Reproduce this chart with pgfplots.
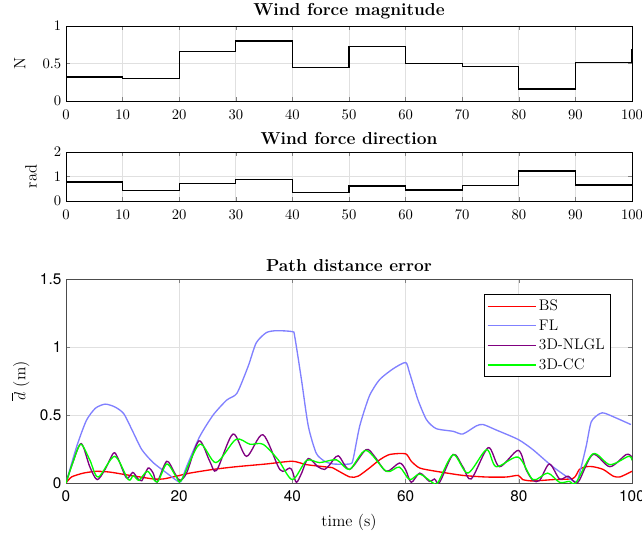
\documentclass[border=0pt]{standalone}
\usepackage{pgfplots}
\pgfplotsset{compat=1.18}
\usepackage{fontspec}
\newfontfamily\hv{TeX Gyre Heros}
\definecolor{flblue}{rgb}{0.5,0.5,1}
\definecolor{nlpurple}{rgb}{0.5,0,0.5}
\definecolor{gridc}{gray}{0.88}
\begin{document}
\begin{tikzpicture}
\useasboundingbox (0,0) rectangle (481.5pt,-402pt);
\pgfplotsset{
  every axis/.append style={
    scale only axis, width=424.5pt, xmin=0, xmax=100,
    grid=major, major grid style={gridc, line width=0.5pt},
    tick align=inside, tick pos=both,
    major tick length=3pt,
    axis line style={line width=0.6pt},
    title style={font=\fontsize{13}{15}\selectfont\bfseries, yshift=-4pt},
    ticklabel style={font=\fontsize{10.5}{12}\selectfont},
    label style={font=\fontsize{12.3}{14}\selectfont},
  }
}
% Wind force magnitude
\begin{axis}[at={(49.5pt,-75.75pt)}, anchor=south west, height=56.25pt,
  ymin=0, ymax=1, ytick={0,0.5,1}, xtick={0,10,...,100},
  xticklabel style={yshift=-3pt},
  title={Wind force magnitude}, ylabel={N}, ylabel style={yshift=6pt}]
\addplot[const plot, black, line width=1pt] coordinates {
(0,0.32) (10,0.30) (20,0.66) (30,0.80) (40,0.45) (50,0.73) (60,0.50) (70,0.46) (80,0.16) (90,0.51) (100,0.70)};
\end{axis}
% Wind force direction
\begin{axis}[at={(49.5pt,-150.75pt)}, anchor=south west, height=36.75pt,
  ymin=0, ymax=2, ytick={0,1,2}, xtick={0,10,...,100},
  xticklabel style={yshift=-3pt},
  title={Wind force direction}, ylabel={rad}, ylabel style={yshift=6pt}]
\addplot[const plot, black, line width=1pt] coordinates {
(0,0.78) (10,0.43) (20,0.72) (30,0.88) (40,0.35) (50,0.61) (60,0.45) (70,0.64) (80,1.23) (90,0.65) (100,0.65)};
\end{axis}
% Path distance error
\begin{axis}[at={(49.5pt,-362.25pt)}, anchor=south west, height=153pt,
  ymin=0, ymax=1.5, ytick={0,0.5,1,1.5}, xtick={0,20,...,100},
  axis line style={line width=0.6pt, black!70},
  ticklabel style={font=\hv\fontsize{11.5}{13}\selectfont},
  xticklabel style={yshift=-2.5pt},
  /pgf/number format/assume math mode=true,
  title={Path distance error}, xlabel={time (s)}, ylabel={$\overline{d}$ (m)},
  xlabel style={yshift=-2pt},
  ylabel style={yshift=1pt},
  legend style={at={(0.962,0.926)}, anchor=north east, font=\fontsize{11.5}{13}\selectfont,
    draw=black, line width=0.6pt, inner sep=2pt, row sep=1.2pt},
  legend cell align=left,
  legend image code/.code={\draw[#1, line width=1pt] (0pt,0pt) -- (36pt,0pt);},
  clip=true]
\addplot[red, line width=1pt, smooth, tension=0.4] coordinates {
(0,0) (1,0.045) (3.1,0.073) (5.4,0.086) (7.8,0.08) (10.7,0.06) (13,0.045) (15.4,0.03) (17.2,0.03)
(19.5,0.05) (21.9,0.073) (26,0.10) (30.1,0.12) (35.4,0.14) (40,0.16) (42.5,0.135) (46.6,0.115)
(47.2,0.11) (50.1,0.045) (51.6,0.05) (53.6,0.11) (55.4,0.17) (57.2,0.21) (60,0.215) (61,0.16)
(62.5,0.11) (65.4,0.086) (70.1,0.056) (74.3,0.044) (77.8,0.044) (79.9,0.056) (80.7,0.025)
(82.5,0.015) (86,0.025) (89.6,0.034) (90.7,0.1) (91.9,0.12) (93.1,0.12) (94.9,0.1) (96.7,0.05)
(97.9,0.045) (100,0.086)};
\addlegendentry{BS}
\addplot[flblue, line width=1pt, smooth, tension=0.4] coordinates {
(0,0) (1.9,0.27) (3.6,0.46) (5.2,0.55) (6.9,0.58) (8.6,0.56) (10.2,0.51) (11.9,0.37) (13.4,0.245)
(15.4,0.15) (17.8,0.073) (19.5,0.02) (20.3,0.01) (21.3,0.12) (23.6,0.34) (26,0.50) (28.4,0.61)
(30.2,0.66) (32.2,0.86) (33.6,1.03) (35.4,1.106) (37.2,1.12) (40,1.113) (40.4,1.08) (41.6,0.76)
(42.8,0.42) (44.2,0.22) (45.7,0.16) (47.2,0.14) (50.1,0.14) (50.7,0.17) (51.9,0.42) (53.6,0.64)
(55.4,0.76) (57.8,0.84) (60,0.886) (60.7,0.81) (62.2,0.61) (63.7,0.465) (65.4,0.40) (68.4,0.38)
(70.1,0.36) (72.5,0.42) (73.7,0.43) (76,0.39) (79.9,0.32) (82.5,0.245) (86,0.12) (89.9,0.01)
(90.6,0.05) (91.9,0.27) (92.8,0.45) (94.3,0.51) (95.4,0.51) (99.8,0.43)};
\addlegendentry{FL}
\addplot[nlpurple, line width=1pt, smooth, tension=0.5] coordinates {
(0,0) (1.2,0.15) (2.7,0.29) (4.2,0.12) (5.5,0.025) (6.9,0.1) (8.4,0.22) (9.2,0.18) (10.7,0.037)
(11.8,0.078) (12.6,0.037) (13.4,0.017) (14.5,0.11) (15.4,0.073) (16.1,0.007) (17.8,0.16) (19.2,0.073)
(20.1,0.02) (21.3,0.073) (23.5,0.31) (25.4,0.16) (26.6,0.093) (29.5,0.36) (31.9,0.196) (34.8,0.355)
(37.8,0.098) (39.5,0.11) (40,0.086) (40.7,0.005) (41.6,0.07) (42.8,0.18) (44.5,0.12) (45.7,0.1)
(46.6,0.135) (48.1,0.2) (50.1,0.1) (53,0.245) (54.5,0.196) (56.6,0.086) (58.9,0.147) (60,0.098)
(61,0.005) (62.5,0.073) (64.2,0.012) (65.1,0.03) (66,0.005) (68.4,0.21) (70.1,0.12) (71.6,0.03)
(74.6,0.26) (76.6,0.12) (79.9,0.24) (81.3,0.098) (82.5,0.02) (83.7,0.02) (85.4,0.14) (87.2,0.03)
(88.7,0.05) (89.9,0.005) (90.7,0.02) (93.1,0.21) (96.1,0.12) (99,0.21) (100,0.19)};
\addlegendentry{3D-NLGL}
\addplot[green, line width=1pt, smooth, tension=0.5] coordinates {
(0,0) (1.2,0.15) (2.6,0.285) (4.2,0.17) (5.7,0.044) (8.6,0.196) (11,0.025) (11.9,0.054) (12.9,0.02)
(14.4,0.086) (16.1,0.007) (17.8,0.14) (19.5,0.044) (20.4,0.02) (23.6,0.285) (26.5,0.15) (30,0.32)
(32.5,0.285) (34.8,0.285) (37.5,0.17) (40,0.025) (42.5,0.166) (44.8,0.15) (47.8,0.17) (50.1,0.1)
(53,0.24) (56.6,0.086) (58.9,0.117) (60.7,0.025) (62.5,0.066) (64.8,0.002) (65.7,0.002) (68.4,0.208)
(71,0.073) (74.3,0.245) (76,0.12) (79.9,0.19) (82.5,0.025) (85.1,0.073) (87.2,0.005) (88.9,0.012)
(90.1,0.002) (93.1,0.215) (96.1,0.135) (99.4,0.196) (100,0.166)};
\addlegendentry{3D-CC}
\end{axis}
\end{tikzpicture}
\end{document}
